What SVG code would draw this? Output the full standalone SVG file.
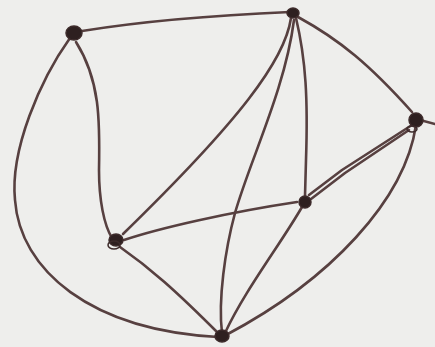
<svg xmlns="http://www.w3.org/2000/svg" width="435" height="347" viewBox="0 0 435 347">
<style>
.e{fill:none;stroke:#574040;stroke-width:2.6;stroke-linecap:round;stroke-linejoin:round}
.n{fill:#2e2020;stroke:#3d2b2b;stroke-width:1.5}
</style>
<rect width="435" height="347" fill="#eeeeec"/>
<g id="connectors">
<path class="e" d="M82,31 C150,20 220,15 290,12"/>
<path class="e" d="M76,42 C100,80 100,120 99,170 C99,200 104,225 112,238"/>
<path class="e" d="M70,38 C40,80 10,150 15,200 C20,270 90,330 218,337"/>
<path class="e" d="M291,18 C285,60 240,120 123,234"/>
<path class="e" d="M294,20 C285,90 250,160 235,213 C225,250 218,300 222,333"/>
<path class="e" d="M296,18 C306,60 308,100 306,160 L305,196"/>
<path class="e" d="M298,17 C340,40 370,65 412,112"/>
<path class="e" d="M420,120 L435,124"/>
<path class="e" d="M412,125 L342,170 L309,195"/>
<path class="e" d="M409,130 L345,173 L311,199"/>
<path class="e" d="M416,125 C405,200 330,280 226,335"/>
<path class="e" d="M302,207 C280,245 245,290 225,333"/>
<path class="e" d="M124,240 C160,228 230,212 297,202"/>
<path class="e" d="M120,247 C150,268 175,290 218,333"/>
</g>
<g id="A"><ellipse class="n" cx="74" cy="33" rx="8" ry="7"/></g>
<g id="B"><ellipse class="n" cx="293" cy="13" rx="6" ry="5"/></g>
<g id="C"><ellipse class="n" cx="416" cy="120" rx="7" ry="7"/><ellipse cx="412" cy="129" rx="5" ry="3" fill="none" stroke="#3d2b2b" stroke-width="1.5"/></g>
<g id="D"><ellipse class="n" cx="305" cy="202" rx="6" ry="6"/></g>
<g id="E"><ellipse class="n" cx="116" cy="240" rx="7" ry="6"/><ellipse cx="114" cy="245" rx="6" ry="4" fill="none" stroke="#3d2b2b" stroke-width="1.5"/></g>
<g id="F"><ellipse class="n" cx="222" cy="336" rx="7" ry="6"/></g>
</svg>
